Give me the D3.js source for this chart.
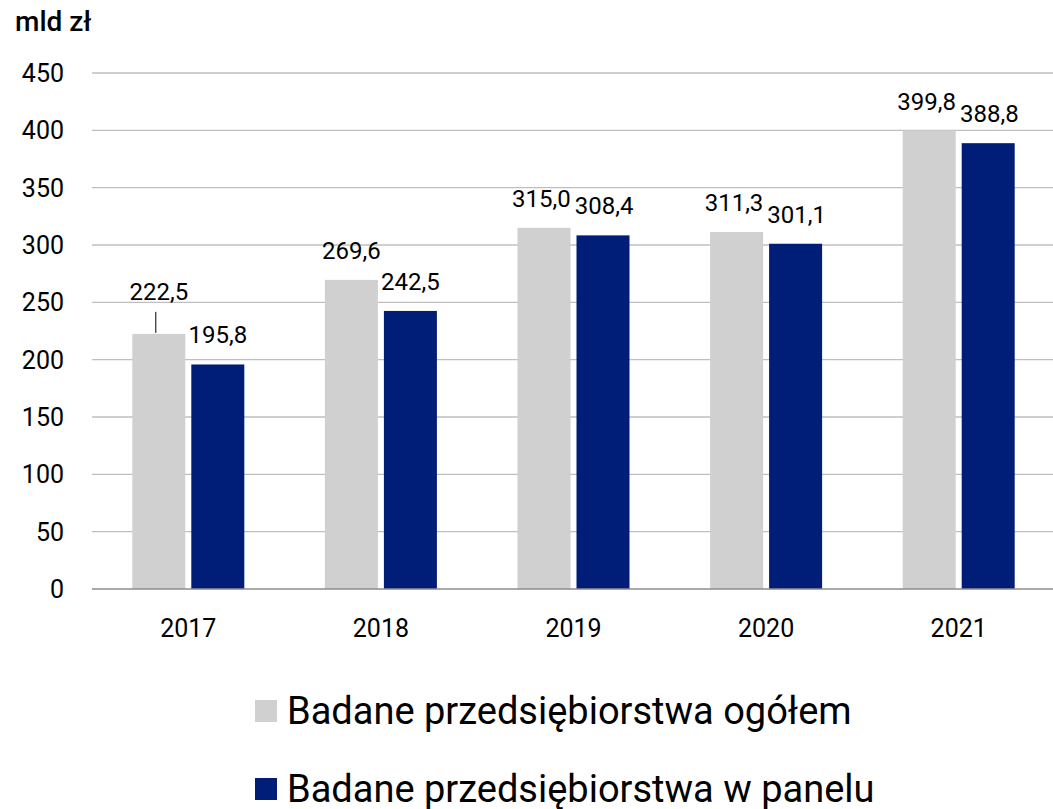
<!DOCTYPE html>
<html>
<head>
<meta charset="utf-8">
<script src="https://cdn.jsdelivr.net/npm/d3@7"></script>
<style>
  body { margin: 0; background: #fff; }
  text { font-family: Roboto, "Noto Sans", sans-serif; fill: #000; }
</style>
</head>
<body>
<svg id="chart" width="1053" height="809"></svg>
<script>
var years = ['2017', '2018', '2019', '2020', '2021'];
var ogolem = [222.5, 269.6, 315.0, 311.3, 399.8];
var panel = [195.8, 242.5, 308.4, 301.1, 388.8];
var seriesNames = ['Badane przedsiębiorstwa ogółem', 'Badane przedsiębiorstwa w panelu'];
var colors = ['#d0d0d0', '#001e78'];
var yTicks = [0, 50, 100, 150, 200, 250, 300, 350, 400, 450];

var svg = d3.select('#chart');
var plotL = 92, plotR = 1055, plotT = 73, plotB = 589;

var x = d3.scaleBand().domain(years).range([plotL, plotR]);
var y = d3.scaleLinear().domain([0, 450]).range([plotB, plotT]);
var barW = 53, gap = 6;

// gridlines
svg.append('g')
   .selectAll('line')
   .data(yTicks.slice(1))
   .enter()
   .append('line')
   .attr('x1', plotL).attr('x2', 1053)
   .attr('y1', function(d) { return y(d); })
   .attr('y2', function(d) { return y(d); })
   .attr('stroke', '#bfbfbf').attr('stroke-width', 1.3);

// y labels
svg.append('g')
   .selectAll('text')
   .data(yTicks)
   .enter()
   .append('text')
   .attr('x', 64)
   .attr('y', function(d) { return y(d) + 9; })
   .attr('text-anchor', 'end')
   .style('font-size', '25px')
   .text(function(d) { return d; });

svg.append('text')
   .attr('x', 15).attr('y', 31)
   .style('font-size', '28px').style('font-weight', '500')
   .text('mld zł');

var fmt = function(v) { return v.toFixed(1).replace('.', ','); };
var series = [ogolem, panel];
var labels = [];

series.forEach(function(vals, s) {
  var g = svg.append('g');
  g.selectAll('rect')
   .data(vals)
   .enter()
   .append('rect')
   .attr('x', function(d, i) { return x(years[i]) + x.bandwidth() / 2 - barW - gap / 2 + s * (barW + gap); })
   .attr('y', function(d) { return y(d); })
   .attr('width', barW)
   .attr('height', function(d) { return plotB - y(d); })
   .attr('fill', colors[s]);

  labels[s] = g.selectAll('text')
   .data(vals)
   .enter()
   .append('text')
   .attr('x', function(d, i) { return x(years[i]) + x.bandwidth() / 2 - barW / 2 - gap / 2 + s * (barW + gap); })
   .attr('y', function(d, i) { return y(d) - 21 - (s === 0 && i === 0 ? 13 : 0); })
   .attr('text-anchor', 'middle')
   .style('font-size', '24px')
   .text(fmt);
});

// push apart labels that touch
var gl = labels[0].nodes(), bl = labels[1].nodes();
years.forEach(function(yr, i) {
  var a = gl[i].getBBox(), b = bl[i].getBBox();
  var overlapY = !(a.y + a.height < b.y || b.y + b.height < a.y);
  var need = a.x + a.width + 4 - b.x;
  if (overlapY && need > 0) {
    d3.select(gl[i]).attr('x', +gl[i].getAttribute('x') - need * 0.7);
    d3.select(bl[i]).attr('x', +bl[i].getAttribute('x') + need * 0.3);
  }
});

// leader line for 2017
var lx = x(years[0]) + x.bandwidth() / 2 - barW / 2 - gap / 2 - 3;
svg.append('line')
   .attr('x1', lx).attr('x2', lx)
   .attr('y1', y(ogolem[0]) - 22).attr('y2', y(ogolem[0]) - 1)
   .attr('stroke', '#000').attr('stroke-width', 1);

// baseline
svg.append('line')
   .attr('x1', plotL).attr('x2', 1053)
   .attr('y1', plotB).attr('y2', plotB)
   .attr('stroke', '#8c8c8c').attr('stroke-width', 1.5);

// x labels
svg.append('g')
   .selectAll('text')
   .data(years)
   .enter()
   .append('text')
   .attr('x', function(d) { return x(d) + x.bandwidth() / 2; })
   .attr('y', 637)
   .attr('text-anchor', 'middle')
   .style('font-size', '25px')
   .text(function(d) { return d; });

// legend
var leg = svg.append('g')
   .selectAll('g')
   .data(seriesNames)
   .enter()
   .append('g')
   .attr('transform', function(d, i) { return 'translate(255,' + (700 + i * 78) + ')'; });
leg.append('rect')
   .attr('width', 22).attr('height', 22)
   .attr('fill', function(d, i) { return colors[i]; });
leg.append('text')
   .attr('x', 32).attr('y', 24)
   .style('font-size', '38px')
   .text(function(d) { return d; });
</script>
</body>
</html>
